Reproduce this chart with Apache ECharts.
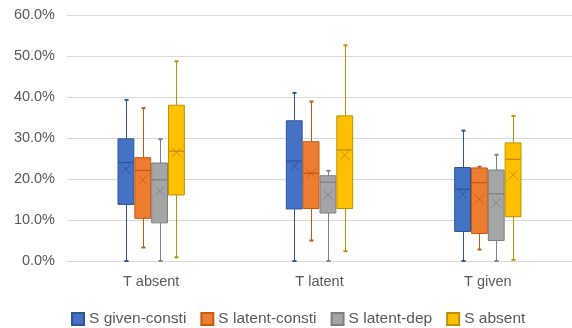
<!DOCTYPE html>
<html>
<head>
<meta charset="utf-8">
<script src="https://cdn.jsdelivr.net/npm/echarts@6/dist/echarts.min.js"></script>
<style>html,body{margin:0;padding:0;background:#fff;}#c{width:572px;height:328px;}</style>
</head>
<body>
<div id="c"></div>
<script>
// Categories and tick values
const categories = ['T absent', 'T latent', 'T given'];
const yTicks = [0, 10, 20, 30, 40, 50, 60];
const seriesNames = ['S given-consti', 'S latent-consti', 'S latent-dep', 'S absent'];

// Box stats per category (in %): [min, q1, median, q3, max]
const givenConsti = [[0, 13.8, 24.0, 29.8, 39.3], [0, 12.7, 24.4, 34.2, 41.0], [0, 7.2, 17.5, 22.8, 31.8]];
const latentConsti = [[3.3, 10.4, 22.1, 25.2, 37.3], [5.0, 12.8, 21.4, 29.1, 38.9], [2.8, 6.7, 19.1, 22.7, 23.0]];
const latentDep = [[0, 9.3, 19.8, 23.9, 29.7], [0, 11.7, 19.2, 20.8, 22.0], [0, 5.0, 16.4, 22.2, 25.9]];
const sAbsent = [[0.9, 16.1, 26.8, 38.0, 48.7], [2.4, 12.8, 27.1, 35.4, 52.6], [0.3, 10.8, 24.8, 28.8, 35.4]];

// Means per category (in %)
const givenConstiMean = [22.4, 23.2, 16.3];
const latentConstiMean = [19.8, 21.4, 15.1];
const latentDepMean = [17.1, 16.1, 14.2];
const sAbsentMean = [26.5, 25.8, 21.0];

const boxes = [givenConsti, latentConsti, latentDep, sAbsent];
const means = [givenConstiMean, latentConstiMean, latentDepMean, sAbsentMean];
const fills = ['#4472C4', '#ED7D31', '#A5A5A5', '#FFC000'];
const borders = ['#2F5597', '#C55A11', '#7F7F7F', '#BF9000'];

function makeRender(si) {
  return function (params, api) {
    const cat = api.value(0);
    const band = api.size([1, 0])[0];
    const stride = band * 0.1;
    const bw = band * 0.094;
    const cx = api.coord([cat, 0])[0] + (si - 1.5) * stride;
    const yMin = api.coord([cat, api.value(1)])[1];
    const yQ1 = api.coord([cat, api.value(2)])[1];
    const yMed = api.coord([cat, api.value(3)])[1];
    const yQ3 = api.coord([cat, api.value(4)])[1];
    const yMax = api.coord([cat, api.value(5)])[1];
    const yMean = api.coord([cat, api.value(6)])[1];
    const lx = Math.round(cx) + 0.5;
    const bc = borders[si];
    const ls = { stroke: bc, lineWidth: 1 };
    const cap = 2;
    const xs = 4.5;
    return {
      type: 'group',
      children: [
        { type: 'line', shape: { x1: lx, y1: yMax, x2: lx, y2: yQ3 }, style: ls },
        { type: 'line', shape: { x1: lx, y1: yQ1, x2: lx, y2: yMin }, style: ls },
        { type: 'line', shape: { x1: lx - cap, y1: yMax, x2: lx + cap, y2: yMax }, style: { stroke: bc, lineWidth: 2 } },
        { type: 'line', shape: { x1: lx - cap, y1: yMin, x2: lx + cap, y2: yMin }, style: { stroke: bc, lineWidth: 2 } },
        { type: 'rect', shape: { x: cx - bw / 2, y: yQ3, width: bw, height: yQ1 - yQ3 }, style: { fill: fills[si], stroke: bc, lineWidth: 1 } },
        { type: 'line', shape: { x1: cx - bw / 2, y1: yMed, x2: cx + bw / 2, y2: yMed }, style: { stroke: bc, lineWidth: 1.3 } },
        { type: 'line', shape: { x1: cx - xs, y1: yMean - xs, x2: cx + xs, y2: yMean + xs }, style: { stroke: bc, lineWidth: 1, opacity: 0.85 } },
        { type: 'line', shape: { x1: cx - xs, y1: yMean + xs, x2: cx + xs, y2: yMean - xs }, style: { stroke: bc, lineWidth: 1, opacity: 0.85 } }
      ]
    };
  };
}

const series = seriesNames.map(function (name, si) {
  return {
    name: name,
    type: 'custom',
    renderItem: makeRender(si),
    itemStyle: { color: fills[si], borderColor: borders[si], borderWidth: 1 },
    encode: { x: 0, y: [1, 2, 3, 4, 5, 6] },
    data: categories.map(function (c, ci) {
      return [ci].concat(boxes[si][ci]).concat([means[si][ci]]);
    })
  };
});

const chart = echarts.init(document.getElementById('c'), null, { renderer: 'canvas' });
chart.setOption({
  animation: false,
  textStyle: { fontFamily: 'Liberation Sans, Arial, sans-serif' },
  grid: { left: 67, right: 0, top: 15, bottom: 67 },
  legend: {
    bottom: -4,
    left: 66,
    icon: 'rect',
    itemWidth: 12,
    itemHeight: 12,
    itemGap: 14,
    textStyle: { color: '#595959', fontSize: 15.5, fontFamily: 'Liberation Sans, Arial, sans-serif' },
    data: seriesNames
  },
  xAxis: {
    type: 'category',
    data: categories,
    axisLine: { lineStyle: { color: '#D9D9D9' } },
    axisTick: { show: false },
    axisLabel: { color: '#595959', fontSize: 14.5, margin: 13 },
    splitLine: { show: false }
  },
  yAxis: {
    type: 'value',
    min: yTicks[0],
    max: yTicks[yTicks.length - 1],
    interval: 10,
    axisLine: { show: false },
    axisTick: { show: false },
    axisLabel: { color: '#595959', fontSize: 14.5, margin: 12, formatter: function (v) { return v.toFixed(1) + '%'; } },
    splitLine: { lineStyle: { color: '#D9D9D9' } }
  },
  series: series
});
</script>
</body>
</html>
